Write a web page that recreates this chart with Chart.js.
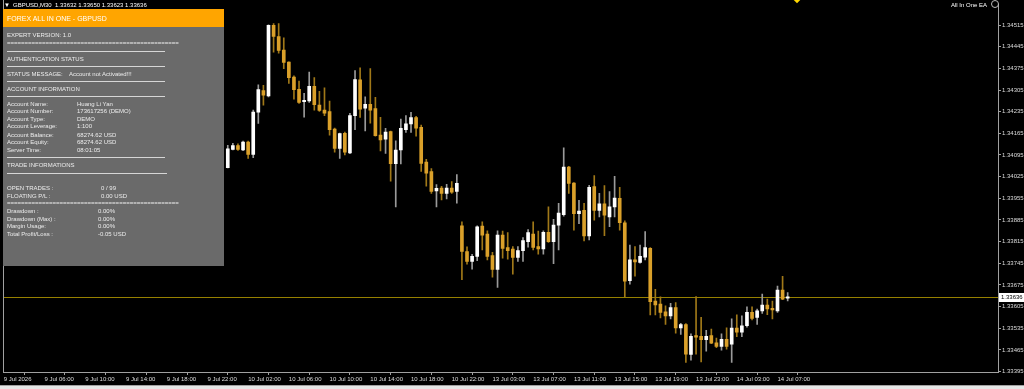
<!DOCTYPE html>
<html><head><meta charset="utf-8">
<script src="https://cdn.jsdelivr.net/npm/chart.js@4.4.1/dist/chart.umd.min.js"></script>
<style>
html,body{margin:0;padding:0;background:#000;width:1024px;height:389px;overflow:hidden}
#wrap{position:relative;width:1024px;height:389px;background:#000}
#c{position:absolute;left:0;top:0}
.t{position:absolute;font-family:"Liberation Sans",Arial,sans-serif;font-size:6px;line-height:7px;height:7px;white-space:nowrap;color:#ececec}
.ln{position:absolute;height:1px;background:#d6d6d6}
#panel{position:absolute;left:3px;top:9px;width:221px;height:257px;background:#6a6a6a}
#hdr{position:absolute;left:3px;top:9px;width:221px;height:18px;background:#ffa500}
</style></head><body>
<div id="wrap">
<canvas id="c" width="1024" height="389"></canvas>
<div id="panel"></div>
<div id="hdr"></div>
<div class="t" style="left:7px;top:15px;font-size:7px;line-height:8px;height:8px;color:#fff">FOREX ALL IN ONE - GBPUSD</div>
<div class="t" style="left:7px;top:31.5px">EXPERT VERSION: 1.0</div>
<div class="t" style="left:7px;top:40px">=================================================</div>
<div class="ln" style="left:7px;top:51px;width:158px"></div>
<div class="t" style="left:7px;top:55.5px">AUTHENTICATION STATUS</div>
<div class="ln" style="left:7px;top:66px;width:158px"></div>
<div class="t" style="left:7px;top:70.5px">STATUS MESSAGE:</div>
<div class="t" style="left:69px;top:70.5px">Account not Activated!!!</div>
<div class="ln" style="left:7px;top:81px;width:158px"></div>
<div class="t" style="left:7px;top:86px">ACCOUNT INFORMATION</div>
<div class="ln" style="left:7px;top:96px;width:158px"></div>
<div class="t" style="left:7px;top:101px">Account Name:</div><div class="t" style="left:77px;top:101px">Huang Li Yan</div>
<div class="t" style="left:7px;top:108px">Account Number:</div><div class="t" style="left:77px;top:108px">173617256 (DEMO)</div>
<div class="t" style="left:7px;top:115.5px">Account Type:</div><div class="t" style="left:77px;top:115.5px">DEMO</div>
<div class="t" style="left:7px;top:123px">Account Leverage:</div><div class="t" style="left:77px;top:123px">1:100</div>
<div class="t" style="left:7px;top:131.5px">Account Balance:</div><div class="t" style="left:77px;top:131.5px">68274.62 USD</div>
<div class="t" style="left:7px;top:139px">Account Equity:</div><div class="t" style="left:77px;top:139px">68274.62 USD</div>
<div class="t" style="left:7px;top:146.5px">Server Time:</div><div class="t" style="left:77px;top:146.5px">08:01:05</div>
<div class="ln" style="left:7px;top:157px;width:158px"></div>
<div class="t" style="left:7px;top:161.5px">TRADE INFORMATIONS</div>
<div class="ln" style="left:7px;top:173px;width:160px"></div>
<div class="t" style="left:7px;top:185px">OPEN TRADES :</div><div class="t" style="left:101px;top:185px">0 / 99</div>
<div class="t" style="left:7px;top:192.5px">FLOATING P/L :</div><div class="t" style="left:101px;top:192.5px">0.00 USD</div>
<div class="t" style="left:7px;top:200px">=================================================</div>
<div class="t" style="left:7px;top:207.5px">Drawdown :</div><div class="t" style="left:98px;top:207.5px">0.00%</div>
<div class="t" style="left:7px;top:215.5px">Drawdown (Max) :</div><div class="t" style="left:98px;top:215.5px">0.00%</div>
<div class="t" style="left:7px;top:223px">Margin Usage:</div><div class="t" style="left:98px;top:223px">0.00%</div>
<div class="t" style="left:7px;top:231px">Total Profit/Loss :</div><div class="t" style="left:98px;top:231px">-0.05 USD</div>
<div class="t" style="left:4px;top:1.5px;color:#fff">&#9660;</div>
<div class="t" style="left:13px;top:1.5px;color:#fff">GBPUSD,M30&nbsp; 1.33632 1.33650 1.33623 1.33636</div>
<div class="t" style="left:951px;top:1.5px;color:#fff">All In One EA</div>
<div style="position:absolute;left:991px;top:0px;width:6px;height:6px;border:1px solid #bbb;border-radius:50%"></div>
<div style="position:absolute;left:794px;top:-4px;width:6px;height:6px;background:#ffd700;transform:rotate(45deg)"></div>
<div style="position:absolute;left:0;top:385px;width:1024px;height:1px;background:#a0a0a0"></div>
<div style="position:absolute;left:0;top:386px;width:1024px;height:3px;background:#e6e6e6"></div>
</div>
<script>
// OHLC for each 30-minute bar, 10 Jul 00:00 -> 14 Jul 08:00 (bar index 0..110)
const open = [1.34054,1.34113,1.34125,1.34111,1.34137,1.34097,1.34233,1.34303,1.34286,1.34514,
1.34478,1.34434,1.34395,1.34347,1.34307,1.34267,1.34270,1.34317,1.34256,1.34240,
1.34235,1.34179,1.34116,1.34165,1.34102,1.34222,1.34338,1.34246,1.34259,1.34245,
1.34159,1.34146,1.34171,1.34067,1.34111,1.34177,1.34195,1.34216,1.34184,1.34072,
1.34041,1.33979,1.33988,1.33971,1.33988,1.33977,1.33866,1.33783,1.33751,1.33767,
1.33865,1.33839,1.33770,1.33725,1.33836,1.33796,1.33791,1.33764,1.33786,1.33815,
1.33839,1.33799,1.33791,1.33845,1.33815,1.33868,1.33902,1.34056,1.34004,1.33905,
1.33916,1.33833,1.33993,1.33916,1.33937,1.33895,1.33927,1.33955,1.33876,1.33689,
1.33756,1.33748,1.33765,1.33793,1.33623,1.33613,1.33588,1.33575,1.33602,1.33536,
1.33547,1.33450,1.33511,1.33509,1.33498,1.33511,1.33488,1.33476,1.33499,1.33483,
1.33535,1.33522,1.33543,1.33586,1.33570,1.33591,1.33610,1.33599,1.33591,1.33658,
1.33632];
const high = [1.34126,1.34133,1.34131,1.34140,1.34140,1.34240,1.34322,1.34320,1.34516,1.34520,
1.34520,1.34474,1.34396,1.34351,1.34334,1.34294,1.34363,1.34345,1.34301,1.34312,
1.34269,1.34182,1.34166,1.34169,1.34230,1.34368,1.34377,1.34283,1.34374,1.34281,
1.34217,1.34181,1.34172,1.34141,1.34211,1.34222,1.34233,1.34220,1.34192,1.34081,
1.34051,1.33999,1.33994,1.34000,1.34009,1.34032,1.33879,1.33798,1.33774,1.33866,
1.33879,1.33850,1.33780,1.33850,1.33849,1.33844,1.33799,1.33799,1.33828,1.33854,
1.33879,1.33849,1.33850,1.33927,1.33887,1.33939,1.34118,1.34058,1.34006,1.33948,
1.33939,1.33997,1.34028,1.33971,1.33996,1.33977,1.34026,1.33990,1.33882,1.33804,
1.33799,1.33804,1.33847,1.33796,1.33661,1.33636,1.33607,1.33615,1.33618,1.33551,
1.33550,1.33517,1.33637,1.33570,1.33528,1.33532,1.33503,1.33517,1.33536,1.33565,
1.33578,1.33575,1.33604,1.33604,1.33597,1.33645,1.33629,1.33623,1.33671,1.33703,
1.33650];
const low = [1.34053,1.34111,1.34110,1.34109,1.34084,1.34086,1.34197,1.34256,1.34283,1.34427,
1.34424,1.34374,1.34326,1.34275,1.34262,1.34217,1.34265,1.34240,1.34236,1.34222,
1.34159,1.34104,1.34084,1.34095,1.34099,1.34177,1.34216,1.34173,1.34198,1.34156,
1.34108,1.34100,1.34010,1.33927,1.34066,1.34168,1.34168,1.34156,1.34042,1.33994,
1.33971,1.33927,1.33950,1.33953,1.33971,1.33939,1.33692,1.33742,1.33726,1.33753,
1.33788,1.33756,1.33700,1.33667,1.33761,1.33758,1.33710,1.33751,1.33751,1.33797,
1.33788,1.33774,1.33774,1.33812,1.33744,1.33788,1.33897,1.33971,1.33852,1.33873,
1.33817,1.33820,1.33884,1.33895,1.33834,1.33863,1.33895,1.33852,1.33637,1.33677,
1.33703,1.33745,1.33756,1.33578,1.33578,1.33568,1.33547,1.33565,1.33519,1.33515,
1.33424,1.33432,1.33451,1.33426,1.33461,1.33485,1.33472,1.33464,1.33467,1.33424,
1.33508,1.33508,1.33538,1.33562,1.33547,1.33583,1.33579,1.33565,1.33586,1.33627,
1.33623];
const close = [1.34115,1.34125,1.34113,1.34137,1.34097,1.34234,1.34306,1.34288,1.34514,1.34478,
1.34433,1.34394,1.34345,1.34306,1.34265,1.34272,1.34317,1.34258,1.34239,1.34230,
1.34177,1.34116,1.34164,1.34104,1.34222,1.34339,1.34243,1.34259,1.34240,1.34157,
1.34144,1.34169,1.34067,1.34111,1.34181,1.34196,1.34216,1.34182,1.34068,1.34036,
1.33977,1.33987,1.33971,1.33988,1.33975,1.34003,1.33783,1.33751,1.33767,1.33863,
1.33836,1.33767,1.33725,1.33836,1.33793,1.33786,1.33764,1.33786,1.33818,1.33844,
1.33796,1.33791,1.33845,1.33815,1.33868,1.33907,1.34056,1.34003,1.33905,1.33914,
1.33833,1.33990,1.33916,1.33937,1.33900,1.33927,1.33956,1.33876,1.33687,1.33756,
1.33749,1.33767,1.33796,1.33621,1.33610,1.33586,1.33575,1.33602,1.33536,1.33547,
1.33451,1.33509,1.33506,1.33498,1.33509,1.33487,1.33476,1.33499,1.33476,1.33535,
1.33522,1.33543,1.33586,1.33567,1.33591,1.33610,1.33597,1.33594,1.33658,1.33629,
1.33636];
// time axis labels and the bar index they sit on
const timeTicks = ['9 Jul 2026','9 Jul 06:00','9 Jul 10:00','9 Jul 14:00','9 Jul 18:00','9 Jul 22:00',
'10 Jul 02:00','10 Jul 06:00','10 Jul 10:00','10 Jul 14:00','10 Jul 18:00','10 Jul 22:00',
'13 Jul 03:00','13 Jul 07:00','13 Jul 11:00','13 Jul 15:00','13 Jul 19:00','13 Jul 23:00',
'14 Jul 03:00','14 Jul 07:00'];
const timeTickBars = [-44,-36,-28,-20,-12,-4,4,12,20,28,36,44,52,60,68,76,84,92,100,108];
// price axis labels
const priceTicks = [1.33395,1.33465,1.33535,1.33605,1.33675,1.33745,1.33815,1.33885,1.33955,
1.34025,1.34095,1.34165,1.34235,1.34305,1.34375,1.34445,1.34515];
const bid = close[close.length - 1];

const BULL = '#ffffff', BEAR = '#daa02a', BULL_W = '#9a9a9a', BEAR_W = '#a07818';
const isBull = k => close[k] >= open[k];
const AX = '#a0a0a0', TXT = '#dcdcdc';
const FONT = {family:'"Liberation Sans", Arial, sans-serif', size:6};

const frame = {
  id:'frame',
  beforeDraw(chart){
    const c = chart.ctx; c.save(); c.fillStyle = '#000'; c.fillRect(0,0,chart.width,chart.height); c.restore();
  },
  beforeDatasetsDraw(chart){
    const c = chart.ctx, a = chart.chartArea, y = Math.round(chart.scales.y.getPixelForValue(bid));
    c.save(); c.fillStyle = 'rgb(150,128,0)';
    c.fillRect(a.left, y, a.right - a.left, 1); c.restore();
  },
  afterDraw(chart){
    const c = chart.ctx, a = chart.chartArea;
    c.save(); c.strokeStyle = AX; c.lineWidth = 1;
    c.beginPath(); c.moveTo(a.left + 0.5, 0); c.lineTo(a.left + 0.5, a.bottom); c.stroke();
    const y = Math.round(chart.scales.y.getPixelForValue(bid));
    c.fillStyle = '#ffffff'; c.fillRect(a.right + 1, y - 4, chart.width - a.right - 1, 9);
    c.fillStyle = '#000'; c.font = '6px "Liberation Sans", Arial, sans-serif';
    c.textBaseline = 'middle'; c.textAlign = 'left';
    c.fillText(bid.toFixed(5), a.right + 3, y + 0.5);
    c.restore();
  }
};

new Chart(document.getElementById('c'), {
  type:'bar',
  data:{
    datasets:[
      {label:'body', order:0, grouped:false, barThickness:3, minBarLength:1,
       data: open.map((o,k)=>({x:k, y:[o, close[k]]})),
       backgroundColor: open.map((o,k)=> isBull(k) ? BULL : BEAR), borderWidth:0},
      {label:'wick', order:1, grouped:false, barThickness:1, minBarLength:1,
       data: open.map((o,k)=>({x:k, y:[low[k], high[k]]})),
       backgroundColor: open.map((o,k)=> isBull(k) ? BULL_W : BEAR_W), borderWidth:0}
    ]
  },
  options:{
    responsive:false, animation:false, devicePixelRatio:1,
    layout:{padding:{left:3, top:0, right:0, bottom:0}},
    plugins:{legend:{display:false}, tooltip:{enabled:false}},
    scales:{
      x:{type:'linear', min:-44.16, max:151.32, offset:false,
         afterBuildTicks:s=>{ s.ticks = timeTickBars.map(v=>({value:v})); },
         afterFit:s=>{ s.height = 17; },
         ticks:{color:TXT, font:FONT, align:'start', padding:1, maxRotation:0, autoSkip:false,
                callback:(v,i)=> timeTicks[i]},
         grid:{drawOnChartArea:false, drawTicks:true, tickLength:3, color:AX},
         border:{display:true, color:AX, width:1}},
      y:{type:'linear', position:'right', min:1.333934, max:1.345811,
         afterBuildTicks:s=>{ s.ticks = priceTicks.map(v=>({value:v})); },
         afterFit:s=>{ s.width = 26; },
         ticks:{color:TXT, font:FONT, padding:1, autoSkip:false, callback:v=> v.toFixed(5)},
         grid:{drawOnChartArea:false, drawTicks:true, tickLength:3, color:AX},
         border:{display:true, color:AX, width:1}}
    }
  },
  plugins:[frame]
});
</script>
</body></html>
